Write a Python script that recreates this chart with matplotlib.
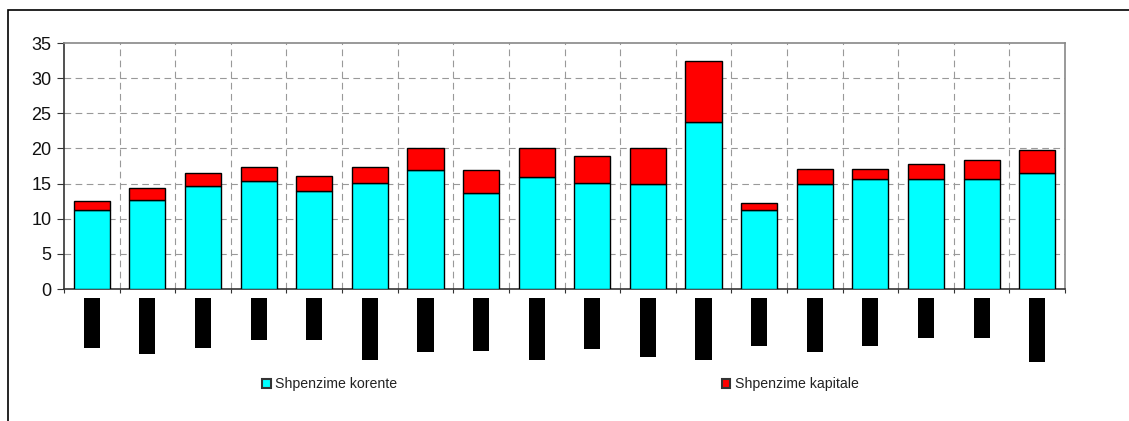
import numpy as np
import matplotlib
matplotlib.use("Agg")
import matplotlib.pyplot as plt
from matplotlib.patches import Rectangle
from matplotlib.transforms import blended_transform_factory

plt.rcParams['font.family'] = ['Liberation Sans', 'DejaVu Sans']

# total spending and current spending per period (% of GDP)
total = [12.5, 14.3, 16.5, 17.4, 16.1, 17.4, 20.0, 16.9, 20.0, 18.9,
         20.0, 32.5, 12.3, 17.1, 17.1, 17.8, 18.3, 19.8]
korente = [11.2, 12.7, 14.7, 15.4, 14.0, 15.1, 16.9, 13.7, 16.0, 15.1,
           14.9, 23.7, 11.3, 14.9, 15.6, 15.6, 15.6, 16.5]
kapitale = [round(t - k, 2) for t, k in zip(total, korente)]

# lengths (px) of the black period-label blocks under the axis
label_len = [50, 56, 50, 42, 42, 62, 54, 53, 62, 51, 59, 62, 48, 54, 48, 40, 40, 64]

W, H = 1129, 421
fig = plt.figure(figsize=(W / 100, H / 100), dpi=100)
ax = fig.add_axes([64 / W, 1 - 289 / H, (1065 - 64) / W, (289 - 43) / H])

x = np.arange(len(total))
b1 = ax.bar(x, korente, width=0.65, color='#00FFFF', edgecolor='black', linewidth=1.0,
            label='Shpenzime korente', zorder=3)
b2 = ax.bar(x, kapitale, bottom=korente, width=0.65, color='#FF0000', edgecolor='black',
            linewidth=1.0, label='Shpenzime kapitale', zorder=3)

ax.set_xlim(-0.5, len(total) - 0.5)
ax.set_ylim(0, 35)
ax.set_yticks(range(0, 36, 5))
ax.set_xticks(np.arange(-0.5, len(total), 1.0))
ax.set_xticklabels([])
ax.tick_params(axis='y', labelsize=13, length=5, width=0.8, color='#333333', pad=4)
ax.tick_params(axis='x', length=3, width=0.8, color='#333333')
for lbl in ax.get_yticklabels():
    lbl.set_color('#111111')

grid_style = dict(color='#999999', linestyle=(0, (6, 4)), linewidth=0.8)
for yv in range(5, 35, 5):
    ax.axhline(yv, zorder=1, **grid_style)
for xv in np.arange(0.5, len(total) - 1, 1.0):
    ax.axvline(xv, zorder=1, **grid_style)

for side in ['top', 'right']:
    ax.spines[side].set_color('#888888')
    ax.spines[side].set_linewidth(1.2)
for side in ['left', 'bottom']:
    ax.spines[side].set_color('#333333')
    ax.spines[side].set_linewidth(1.2)

# black label blocks below each bar
trans = blended_transform_factory(ax.transData, fig.transFigure)
top = 1 - 298 / H
for xi, ln in zip(x, label_len):
    ax.add_artist(Rectangle((xi - 0.145, top - ln / H), 0.29, ln / H, transform=trans,
                            facecolor='black', edgecolor='none', clip_on=False))

leg = fig.legend(handles=[b1, b2], loc='center left', bbox_to_anchor=(262 / W, 1 - 384 / H),
                 ncol=2, frameon=False, fontsize=10.2, handlelength=0.6, handleheight=0.6,
                 handletextpad=0.35, columnspacing=22.9, borderpad=0, borderaxespad=0)
for t in leg.get_texts():
    t.set_color('#222222')
for hnd in leg.legend_handles:
    hnd.set_edgecolor('#333333')
    hnd.set_linewidth(1.5)

# outer frame, open on the right and bottom
fig.add_artist(Rectangle((8 / W, -0.2), 1.2, 1.2 - 10 / H, transform=fig.transFigure,
                         fill=False, edgecolor='black', linewidth=1.2))

fig.savefig('out.png', dpi=100)
